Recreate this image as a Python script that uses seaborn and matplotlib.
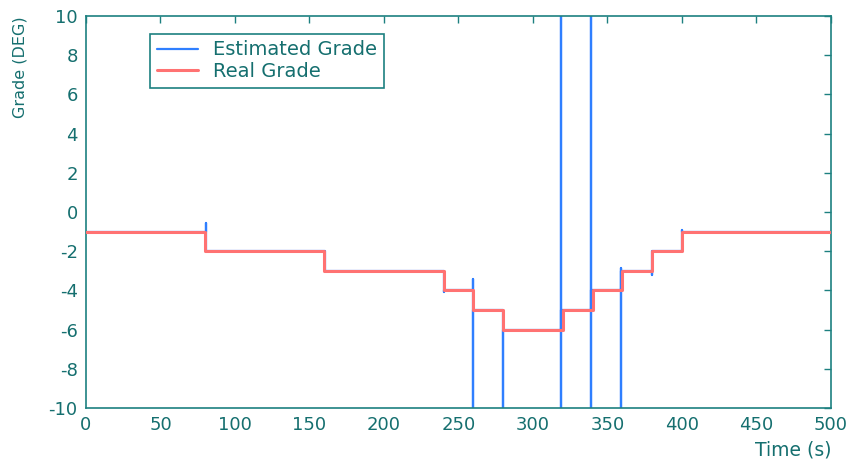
import matplotlib
matplotlib.use("Agg")
import matplotlib.pyplot as plt
import seaborn as sns
import pandas as pd

# Real road grade: piecewise-constant levels (deg) between change times (s)
real_time = [0, 80, 160, 240, 260, 280, 320, 340, 360, 380, 400, 500]
real_grade = [-1, -2, -3, -4, -5, -6, -5, -4, -3, -2, -1, -1]

# Estimated grade: tracks the real grade with transients at each change
est_time = [0, 80.3, 80.3, 80.3, 160.4, 160.4, 160.4, 240.5, 240.5, 240.5,
            259.5, 259.5, 259.5, 259.5, 280, 280, 280, 319, 319, 319, 319,
            339, 339, 339, 339, 358.8, 358.8, 358.8, 358.8, 380, 380, 380,
            400, 400, 400, 500]
est_grade = [-1, -1, -0.55, -2, -2, -2.96, -3, -3, -4.1, -4,
             -4, -3.43, -10, -5, -5, -10, -6, -6, 10, -10, -5,
             -5, 10, -10, -4, -4, -2.86, -10, -3, -3, -3.2, -2,
             -2, -0.9, -1, -1]

x_ticks = [0, 50, 100, 150, 200, 250, 300, 350, 400, 450, 500]
y_ticks = [-10, -8, -6, -4, -2, 0, 2, 4, 6, 8, 10]

teal = "#1d8080"
text_teal = "#156f6f"
blue = "#2f7fff"
salmon = "#ff7272"

sns.set_theme(style="white")
plt.rcParams["font.family"] = ["DejaVu Sans"]

fig, ax = plt.subplots(figsize=(8.54, 4.65), dpi=100)
fig.subplots_adjust(left=86 / 854, right=831 / 854, top=1 - 16 / 465, bottom=1 - 408 / 465)

est_df = pd.DataFrame({"t": est_time, "g": est_grade})
real_df = pd.DataFrame({"t": real_time, "g": real_grade})

sns.lineplot(data=est_df, x="t", y="g", sort=False, estimator=None, ax=ax,
             color=blue, linewidth=1.6, label="Estimated Grade", zorder=2)
sns.lineplot(data=real_df, x="t", y="g", sort=False, estimator=None, ax=ax,
             color=salmon, linewidth=2.2, drawstyle="steps-post",
             label="Real Grade", zorder=3)

ax.set_xlim(0, 500)
ax.set_ylim(-10, 10)
ax.set_xticks(x_ticks)
ax.set_yticks(y_ticks)
ax.set_xticklabels([str(v) for v in x_ticks])
ax.set_yticklabels([str(v) for v in y_ticks])

ax.tick_params(axis="both", which="both", direction="in", length=5, width=1,
               color=teal, labelcolor=text_teal, labelsize=13,
               top=True, right=True, pad=6)
for side in ax.spines.values():
    side.set_visible(True)
    side.set_color(teal)
    side.set_linewidth(1.2)

ax.set_xlabel("Time (s)", fontsize=13.5, color=text_teal)
ax.xaxis.set_label_coords(0.95, -0.083)
ax.set_ylabel("Grade (DEG)", fontsize=11.5, color=text_teal)
ax.yaxis.set_label_coords(-0.079, 0.87)

leg = ax.legend(loc="upper left", bbox_to_anchor=(0.086, 0.955), fancybox=False,
                framealpha=1, edgecolor=teal, fontsize=14, handlelength=2.1,
                borderpad=0.35, labelspacing=0.12, handletextpad=0.8,
                borderaxespad=0)
leg.get_frame().set_linewidth(1.2)
for txt in leg.get_texts():
    txt.set_color(text_teal)

ax.grid(False)
fig.savefig("out.png", dpi=100, facecolor="white")
